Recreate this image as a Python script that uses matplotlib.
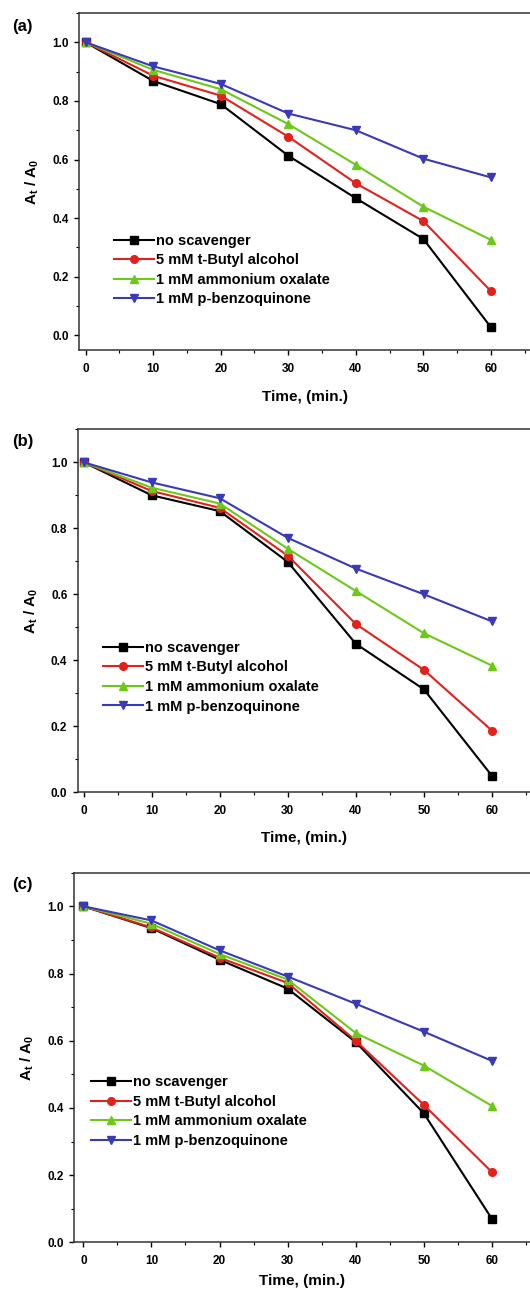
import matplotlib
matplotlib.use("Agg")
import matplotlib.pyplot as plt
from matplotlib.ticker import MultipleLocator

plt.rcParams['font.family'] = ['Liberation Sans', 'DejaVu Sans']
plt.rcParams['font.weight'] = 'bold'
plt.rcParams['mathtext.fontset'] = 'custom'
plt.rcParams['mathtext.bf'] = 'Liberation Sans:bold'
plt.rcParams['mathtext.rm'] = 'Liberation Sans:bold'
plt.rcParams['mathtext.it'] = 'Liberation Sans:bold'
plt.rcParams['mathtext.default'] = 'bf'

# Data
time = [0, 10, 20, 30, 40, 50, 60]
labels = ["no scavenger", "5 mM t-Butyl alcohol", "1 mM ammonium oxalate", "1 mM p-benzoquinone"]
colors = ["#000000", "#e3211c", "#6cc918", "#3a3ab8"]
markers = ["s", "o", "^", "v"]

# panel (a)
a_none = [1.0, 0.868, 0.789, 0.613, 0.468, 0.329, 0.028]
a_tba = [1.0, 0.886, 0.818, 0.678, 0.519, 0.390, 0.151]
a_ao = [1.0, 0.906, 0.840, 0.721, 0.582, 0.439, 0.326]
a_bq = [1.0, 0.918, 0.858, 0.757, 0.700, 0.603, 0.539]

# panel (b)
b_none = [1.0, 0.900, 0.852, 0.698, 0.450, 0.312, 0.050]
b_tba = [1.0, 0.913, 0.862, 0.717, 0.510, 0.371, 0.187]
b_ao = [1.0, 0.923, 0.875, 0.738, 0.610, 0.482, 0.384]
b_bq = [1.0, 0.939, 0.891, 0.771, 0.678, 0.600, 0.518]

# panel (c)
c_none = [1.0, 0.935, 0.841, 0.755, 0.596, 0.384, 0.070]
c_tba = [1.0, 0.937, 0.847, 0.772, 0.600, 0.409, 0.209]
c_ao = [1.0, 0.948, 0.858, 0.782, 0.623, 0.526, 0.406]
c_bq = [1.0, 0.958, 0.869, 0.791, 0.710, 0.627, 0.540]

panels = [
    ("(a)", [a_none, a_tba, a_ao, a_bq]),
    ("(b)", [b_none, b_tba, b_ao, b_bq]),
    ("(c)", [c_none, c_tba, c_ao, c_bq]),
]

# layout in figure pixels: left, top, bottom; plus limits and legend anchor
W, H = 530, 1293
boxes = [(79, 13, 350), (77.7, 429.3, 792.3), (74, 872.7, 1242.3)]
xlims = [(-0.99, 65.8), (-0.88, 65.6), (-1.37, 65.6)]
ylims = [(-0.05, 1.1), (0.0, 1.1), (0.0, 1.1)]
leg_anchor = [(0.078, 0.345), (0.055, 0.417), (0.037, 0.452)]
label_pos = [(12, 26), (12, 441), (12, 885)]
xlabel_pad = [11, 10, 5]

fig = plt.figure(figsize=(W / 100, H / 100), dpi=100)

for i, (tag, series) in enumerate(panels):
    left, top, bottom = boxes[i]
    ax = fig.add_axes([left / W, 1 - bottom / H, (W - left) / W, (bottom - top) / H])
    for vals, lab, c, m in zip(series, labels, colors, markers):
        ax.plot(time, vals, color=c, marker=m, markersize=5.5, linewidth=1.5, label=lab)
    ax.set_xlim(*xlims[i])
    ax.set_ylim(*ylims[i])
    ax.xaxis.set_major_locator(MultipleLocator(10))
    ax.xaxis.set_minor_locator(MultipleLocator(5))
    ax.yaxis.set_major_locator(MultipleLocator(0.2))
    ax.yaxis.set_minor_locator(MultipleLocator(0.1))
    ax.set_yticks([0.0, 0.2, 0.4, 0.6, 0.8, 1.0])
    ax.set_yticklabels(["0.0", "0.2", "0.4", "0.6", "0.8", "1.0"])
    ax.tick_params(which='major', direction='out', length=3.5, width=1, labelsize=8.5, pad=4)
    ax.tick_params(axis='x', which='major', pad=6)
    ax.tick_params(which='minor', direction='out', length=2, width=0.8)
    ax.spines['right'].set_visible(False)
    for s in ['left', 'bottom', 'top']:
        ax.spines[s].set_linewidth(1.1)
        ax.spines[s].set_color('#333333')
    ax.set_xlabel("Time, (min.)", fontsize=11, fontweight='bold', labelpad=xlabel_pad[i])
    ax.set_ylabel(r"A$_t$ / A$_0$", fontsize=11, fontweight='bold', labelpad=8)
    ax.legend(loc='upper left', bbox_to_anchor=leg_anchor[i], frameon=False,
              fontsize=10.5, handlelength=2.75, handletextpad=0.15, labelspacing=0.38,
              borderpad=0, borderaxespad=0, markerscale=1.0)
    fig.text(label_pos[i][0] / W, 1 - label_pos[i][1] / H, tag, fontsize=12,
             fontweight='bold', ha='left', va='center')

fig.savefig("out.png", dpi=100)
